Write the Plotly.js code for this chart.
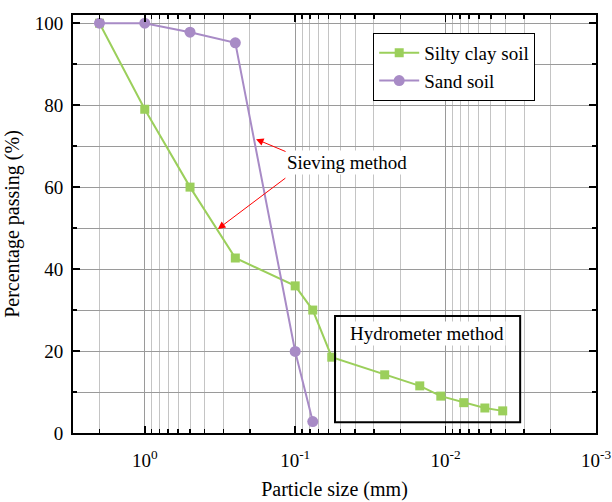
<!DOCTYPE html>
<html><head><meta charset="utf-8">
<script src="https://cdn.plot.ly/plotly-3.0.1.min.js"></script>
<style>html,body{margin:0;padding:0;background:#fff}#c{width:612px;height:502px}</style>
</head><body><div id="c"></div>
<script>
const siltySize = [2, 1, 0.5, 0.25, 0.1, 0.0764, 0.0571, 0.0254, 0.01485, 0.01076, 0.00757, 0.00548, 0.00417];
const siltyPass = [100, 79, 60, 42.7, 35.9, 30.0, 18.5, 14.2, 11.5, 9.0, 7.4, 6.1, 5.4];
const sandSize = [2, 1, 0.5, 0.25, 0.1, 0.0764];
const sandPass = [100, 100, 97.8, 95.2, 19.9, 2.8];
const xTickVals = [1, 0.1, 0.01, 0.001];
const xTickText = ['10<sup>0</sup>', '10<sup>-1</sup>', '10<sup>-2</sup>', '10<sup>-3</sup>'];

const font = 'Liberation Serif, Times New Roman, serif';
const green = '#9bcf5b', purple = '#a88bc6';
const traces = [
  {x: siltySize, y: siltyPass, name: 'Silty clay soil', mode: 'lines+markers',
   line: {color: green, width: 2}, marker: {symbol: 'square', size: 9, color: green}},
  {x: sandSize, y: sandPass, name: 'Sand soil', mode: 'lines+markers',
   line: {color: purple, width: 2}, marker: {symbol: 'circle', size: 11, color: purple}}
];
const layout = {
  width: 612, height: 502,
  margin: {l: 73, r: 16, t: 15, b: 69},
  paper_bgcolor: '#fff', plot_bgcolor: '#fff',
  font: {family: font, color: '#000', size: 17},
  showlegend: true,
  legend: {x: 0.574, y: 0.957, xanchor: 'left', yanchor: 'top', bordercolor: '#000', borderwidth: 1,
           font: {family: font, size: 19}, bgcolor: '#fff', tracegroupgap: 0, itemwidth: 40},
  xaxis: {type: 'log', range: [Math.log10(3), -3], tickmode: 'array', tickvals: xTickVals, ticktext: xTickText,
          showline: true, linecolor: '#000', linewidth: 2, mirror: 'ticks', ticks: 'inside', ticklen: 7, tickwidth: 1.5,
          tickcolor: '#000', showgrid: true, gridcolor: '#9a9a9a', gridwidth: 1, zeroline: false,
          tickfont: {family: font, size: 19}, ticklabelstandoff: 9,
          minor: {dtick: 'D1', ticks: 'inside', ticklen: 4, tickcolor: '#000', showgrid: true, gridcolor: '#c4c4c4', gridwidth: 1},
          title: {text: 'Particle size (mm)', font: {family: font, size: 20}, standoff: 12}},
  yaxis: {range: [0, 102], tickmode: 'linear', tick0: 0, dtick: 20,
          showline: true, linecolor: '#000', linewidth: 2, mirror: 'ticks', ticks: 'inside', ticklen: 7, tickwidth: 1.5,
          tickcolor: '#000', showgrid: true, gridcolor: '#9a9a9a', zeroline: false,
          tickfont: {family: font, size: 19}, ticklabelstandoff: 4,
          minor: {dtick: 10, ticks: 'inside', ticklen: 4, tickcolor: '#000', showgrid: true, gridcolor: '#9a9a9a'},
          title: {text: 'Percentage passing (%)', font: {family: font, size: 20}, standoff: 10}},
  shapes: [
    {type: 'rect', xref: 'paper', yref: 'paper', x0: 0.501, x1: 0.855, y0: 0.026, y1: 0.280,
     line: {color: '#000', width: 2}, fillcolor: 'rgba(0,0,0,0)'}
  ],
  annotations: [
    {xref: 'paper', yref: 'paper', x: 0.677, y: 0.239, xanchor: 'center', yanchor: 'middle',
     text: 'Hydrometer method', showarrow: false, font: {family: font, size: 19}, bgcolor: '#fff'},
    {xref: 'paper', yref: 'paper', x: 0.524, y: 0.646, xanchor: 'center', yanchor: 'middle',
     text: 'Sieving method', showarrow: false, font: {family: font, size: 19}, bgcolor: '#fff'},
    {xref: 'paper', yref: 'paper', x: 0.350, y: 0.703, text: '', showarrow: true, ax: 31, ay: 13,
     arrowcolor: '#ff0000', arrowwidth: 1, arrowhead: 2, arrowsize: 1.5},
    {xref: 'paper', yref: 'paper', x: 0.277, y: 0.488, text: '', showarrow: true, ax: 69, ay: -52,
     arrowcolor: '#ff0000', arrowwidth: 1, arrowhead: 2, arrowsize: 1.5}
  ]
};
Plotly.newPlot('c', traces, layout, {displayModeBar: false, staticPlot: true});
</script>
</body></html>
